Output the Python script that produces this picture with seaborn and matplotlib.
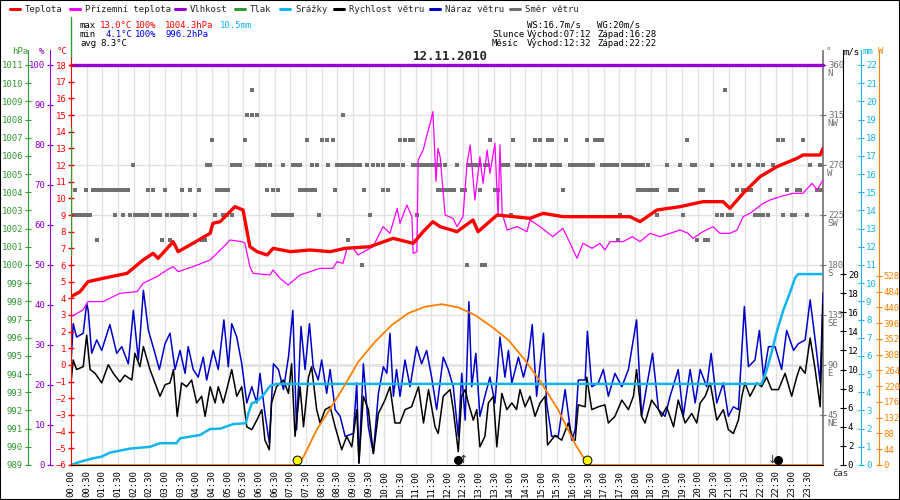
import numpy as np
import pandas as pd
import seaborn as sns
import matplotlib.pyplot as plt
from matplotlib import transforms
from matplotlib.patches import Rectangle
from matplotlib.lines import Line2D

# ---------------- data (hours of day -> value) ----------------
temp_h = [0.0, 0.29, 0.54, 1.02, 1.79, 2.30, 2.62, 2.78, 3.26, 3.42, 3.89, 4.44, 4.53, 4.76, 5.23, 5.49,
          5.71, 5.94, 6.26, 6.45, 7.0, 7.63, 8.27, 8.75, 9.54, 10.28, 10.92, 11.24, 11.55, 11.78, 12.32,
          12.83, 12.99, 13.60, 14.65, 15.07, 15.70, 16.98, 17.84, 18.16, 18.70, 19.44, 20.17, 20.81,
          21.03, 21.45, 21.99, 22.53, 23.17, 23.36, 23.91, 24.0]
temp_v = [4.1, 4.4, 5.0, 5.2, 5.5, 6.3, 6.7, 6.4, 7.4, 6.8, 7.3, 7.9, 8.5, 8.6, 9.5, 9.3,
          7.1, 6.8, 6.6, 7.0, 6.8, 6.9, 6.8, 7.0, 7.1, 7.6, 7.3, 8.0, 8.6, 8.3, 8.0,
          8.7, 8.0, 9.0, 8.8, 9.1, 8.9, 8.9, 8.9, 8.6, 9.3, 9.5, 9.8, 9.8,
          9.4, 10.3, 11.3, 11.9, 12.4, 12.6, 12.6, 13.0]

ground_h = [0.0, 0.38, 0.54, 1.02, 1.56, 2.11, 2.30, 2.74, 3.06, 3.26, 3.42, 3.89, 4.44, 4.98, 5.07, 5.46,
            5.55, 5.71, 5.81, 6.35, 6.45, 6.67, 6.93, 7.31, 7.95, 8.36, 8.49, 8.68, 8.81, 9.00, 9.16,
            9.64, 9.96, 10.18, 10.41, 10.50, 10.72, 10.88, 10.92, 11.04, 11.08, 11.24, 11.36, 11.46,
            11.55, 11.65, 11.71, 11.78, 11.94, 12.19, 12.32, 12.51, 12.64, 12.74, 12.89, 13.05, 13.15,
            13.28, 13.37, 13.53, 13.63, 13.69, 13.76, 13.92, 14.24, 14.55, 14.65, 14.97, 15.38, 15.70,
            15.93, 16.15, 16.34, 16.63, 16.88, 17.04, 17.20, 17.62, 17.91, 18.16, 18.48, 18.80, 19.12,
            19.44, 19.69, 19.85, 20.17, 20.49, 20.71, 21.03, 21.26, 21.45, 21.67, 22.09, 22.31, 22.63,
            23.04, 23.36, 23.65, 23.81, 24.0]
ground_v = [2.9, 3.3, 3.8, 3.8, 4.3, 4.4, 4.9, 5.3, 5.7, 5.9, 5.6, 5.9, 6.3, 7.3, 7.5, 7.4,
            7.3, 5.9, 5.5, 5.4, 5.7, 5.2, 4.8, 5.4, 5.8, 5.8, 6.2, 6.1, 7.0, 7.0, 6.6,
            7.1, 8.3, 7.9, 9.4, 8.5, 9.6, 8.9, 6.7, 6.8, 12.3, 12.9, 13.8, 14.5,
            15.2, 11.0, 13.0, 12.5, 9.0, 8.8, 8.3, 8.9, 12.1, 13.2, 9.9, 12.5, 10.9,
            12.9, 11.5, 13.3, 8.9, 13.2, 9.1, 8.1, 8.3, 8.0, 8.7, 8.3, 7.7, 8.2,
            7.3, 6.4, 7.3, 7.0, 7.3, 6.9, 7.4, 7.4, 7.7, 7.4, 7.9, 7.7, 7.9,
            8.1, 7.9, 7.6, 8.0, 8.3, 7.9, 7.9, 8.1, 8.9, 9.1, 9.7, 9.9, 10.1,
            10.3, 10.3, 10.9, 10.5, 11.1]

hum_h = [0.0, 24.0]
hum_v = [100, 100]

precip_h = [0.0, 0.29, 0.71, 0.98, 1.24, 1.56, 1.88, 2.20, 2.52, 2.84, 3.37, 3.48, 4.12, 4.44, 4.76, 5.18,
            5.58, 5.66, 5.77, 5.93, 6.14, 6.35, 6.56, 22.04, 22.20, 22.36, 22.52, 22.73, 22.95, 23.11,
            23.21, 24.0]
precip_v = [0.0, 0.18, 0.37, 0.46, 0.68, 0.79, 0.90, 0.95, 1.0, 1.2, 1.2, 1.47, 1.65, 1.98, 2.0, 2.25,
            2.3, 2.84, 3.39, 3.5, 3.85, 4.35, 4.46, 4.46, 5.2, 6.2, 7.3, 8.5, 9.5, 10.3,
            10.5, 10.5]

rad_h = [0.0, 7.25, 7.42, 7.84, 8.11, 8.64, 9.17, 9.70, 10.24, 10.77, 11.30, 11.83, 12.36, 12.89,
         13.43, 13.96, 14.49, 15.02, 15.55, 16.09, 16.51, 24.0]
rad_v = [0, 0, 23, 98, 135, 209, 288, 344, 391, 424, 442, 449, 440, 419,
         386, 349, 293, 228, 154, 58, 0, 0]

wind_h = [0.00, 0.07, 0.18, 0.39, 0.50, 0.61, 0.77, 0.98, 1.19, 1.35, 1.56, 1.72, 1.94, 2.04, 2.20, 2.31,
          2.52, 2.68, 2.84, 3.00, 3.16, 3.27, 3.39, 3.53, 3.69, 3.85, 4.01, 4.17, 4.28, 4.44, 4.60, 4.70,
          4.86, 4.97, 5.13, 5.29, 5.45, 5.61, 5.77, 5.93, 6.09, 6.19, 6.33, 6.40, 6.56, 6.78, 6.94, 7.04,
          7.15, 7.31, 7.42, 7.58, 7.68, 7.84, 7.95, 8.11,
          8.27, 8.43, 8.64, 8.80, 8.96, 9.12, 9.19, 9.33, 9.49, 9.65, 9.81, 10.02, 10.18, 10.34, 10.50,
          10.66, 10.87, 11.09, 11.25, 11.41, 11.62, 11.72, 11.88, 12.10, 12.20, 12.36, 12.47, 12.58,
          12.68, 12.84, 12.95, 13.05, 13.21, 13.32, 13.48, 13.59, 13.75, 13.91, 14.07, 14.22, 14.33,
          14.49, 14.65, 14.81, 14.97, 15.13, 15.21, 15.45, 15.66, 15.87, 16.03,
          16.09, 16.19, 16.41, 16.46, 16.62, 16.83, 17.04, 17.15, 17.36, 17.58, 17.79, 17.95, 18.05,
          18.21, 18.32, 18.53, 18.75, 18.85, 19.01, 19.23, 19.38, 19.60, 19.81, 19.97, 20.08, 20.24,
          20.40, 20.61, 20.82, 20.98, 21.14, 21.30, 21.41, 21.51, 21.67, 21.89, 22.04, 22.20, 22.36,
          22.58, 22.79, 23.00, 23.16, 23.27, 23.43, 23.59, 23.75, 23.91, 24.00]
wind_v = [8.6, 11.0, 10.0, 10.3, 13.6, 10.0, 9.6, 8.6, 10.5, 9.6, 8.7, 9.4, 8.9, 11.7, 10.3, 12.4,
          10.0, 8.6, 7.2, 8.4, 8.6, 10.0, 5.1, 8.6, 8.2, 8.9, 6.5, 7.2, 5.1, 8.2, 6.5, 8.2,
          6.5, 7.9, 10.0, 7.2, 8.2, 4.0, 3.7, 4.7, 5.8, 2.6, 1.6, 6.5, 8.2, 8.9, 7.5, 10.6,
          3.0, 8.2, 4.0, 9.2, 10.3, 5.8, 4.4, 5.8,
          6.1, 4.0, 1.6, 3.0, 1.9, 5.8, 0.2, 7.2, 5.8, 1.2, 5.4, 6.8, 8.2, 4.4, 4.4,
          5.8, 6.1, 8.2, 4.4, 7.9, 4.0, 3.3, 7.2, 7.9, 5.8, 1.4, 7.2, 7.9,
          6.5, 4.7, 5.8, 1.9, 3.0, 6.5, 7.2, 1.9, 7.5, 5.8, 6.5, 5.8, 7.9,
          6.1, 7.2, 5.1, 6.5, 7.2, 2.1, 3.1, 2.6, 4.4, 2.6,
          2.6, 6.3, 6.1, 9.2, 5.8, 6.1, 6.3, 4.4, 5.1, 6.8, 5.8, 7.2, 10.0,
          5.1, 4.4, 6.8, 5.8, 5.1, 6.1, 4.0, 6.8, 4.4, 5.4, 4.4, 6.5, 7.2,
          8.6, 4.7, 5.8, 3.7, 3.3, 4.7, 7.2, 8.6, 7.2, 8.6, 8.2, 9.2, 7.9,
          7.9, 9.6, 7.2, 9.2, 10.3, 9.6, 13.3, 10.0, 6.1, 16.9]

gust_h = [0.00, 0.07, 0.18, 0.39, 0.50, 0.55, 0.66, 0.82, 0.98, 1.24, 1.46, 1.62, 1.83, 1.99, 2.15, 2.31,
          2.47, 2.68, 2.82, 3.00, 3.16, 3.32, 3.48, 3.64, 3.74, 3.90, 4.06, 4.22, 4.33, 4.54, 4.70, 4.88,
          5.02, 5.13, 5.29, 5.45, 5.61, 5.77, 5.93, 6.03, 6.19, 6.33, 6.46, 6.62, 6.78, 6.94, 7.08, 7.20,
          7.34, 7.47, 7.61, 7.73, 7.89, 8.00, 8.16,
          8.27, 8.43, 8.59, 8.75, 9.01, 9.12, 9.19, 9.33, 9.49, 9.65, 9.81, 9.97, 10.08, 10.18, 10.29,
          10.39, 10.50, 10.66, 10.82, 11.03, 11.19, 11.35, 11.51, 11.67, 11.88, 12.04, 12.20, 12.36,
          12.47, 12.58, 12.70, 12.79, 12.92, 13.05, 13.21, 13.37, 13.53, 13.69, 13.85, 13.96, 14.07,
          14.28, 14.44, 14.60, 14.72, 14.86, 15.08, 15.18, 15.34, 15.55, 15.77, 15.98,
          16.09, 16.19, 16.41, 16.48, 16.62, 16.83, 16.99, 17.15, 17.36, 17.58, 17.79, 18.05, 18.21,
          18.37, 18.56, 18.75, 18.96, 19.12, 19.38, 19.54, 19.76, 19.92, 20.08, 20.29, 20.43, 20.61,
          20.82, 20.98, 21.14, 21.30, 21.49, 21.62, 21.83, 21.97, 22.10, 22.26, 22.47, 22.68, 22.84,
          23.06, 23.21, 23.43, 23.59, 23.75, 23.91, 24.00]
gust_v = [10.6, 14.8, 13.4, 13.8, 16.9, 16.2, 11.7, 13.1, 12.0, 14.7, 11.7, 12.4, 10.6, 16.2, 11.0, 18.3,
          14.1, 11.7, 10.0, 12.7, 13.8, 10.0, 12.0, 9.6, 12.4, 10.0, 9.2, 11.3, 8.9, 12.0, 10.0, 15.2,
          10.3, 14.8, 13.4, 10.6, 6.5, 8.2, 6.5, 9.6, 5.4, 2.3, 10.6, 10.0, 7.9, 11.3, 16.2, 3.7,
          14.5, 10.0, 14.8, 10.3, 8.9, 11.0, 7.5,
          10.0, 5.8, 5.1, 3.0, 3.3, 8.6, 0.2, 10.6, 4.0, 1.2, 7.5, 10.3, 9.6, 13.8, 7.2,
          10.0, 7.2, 11.0, 8.2, 12.4, 10.6, 12.0, 9.2, 5.8, 11.3, 10.0, 8.2, 3.0,
          9.6, 4.7, 17.1, 8.2, 11.7, 5.1, 7.2, 9.2, 6.5, 13.4, 9.2, 12.0, 8.6,
          11.3, 9.2, 11.3, 14.7, 7.2, 13.8, 6.5, 3.0, 3.0, 7.9, 2.6,
          3.7, 8.9, 8.9, 14.0, 8.2, 8.6, 10.0, 7.2, 9.6, 8.2, 10.0, 15.2, 5.1,
          8.2, 11.7, 5.8, 5.1, 7.2, 10.0, 5.1, 10.0, 6.5, 10.0, 8.2, 11.7, 6.5,
          8.6, 5.1, 6.1, 5.8, 16.6, 10.3, 11.0, 14.1, 9.2, 12.4, 12.4, 10.0, 14.1,
          12.0, 12.7, 13.1, 17.3, 13.1, 8.6, 18.0]

# wind direction samples (hour of day) per compass bearing
dir_n = [9.61]
dir_nnw = [5.78, 20.87]
dir_nw = [5.62, 5.78, 5.94, 8.68]
dir_wnw = [4.50, 5.55, 7.53, 8.01, 8.17, 8.36, 10.50, 10.66, 10.82, 10.92, 13.37, 14.11, 14.81, 14.97,
           15.22, 15.35, 15.80, 16.47, 16.73, 16.85, 16.95, 19.66, 22.57, 22.73, 23.36]
dir_w = [1.98, 4.34, 4.44, 5.14, 5.27, 5.39, 5.94, 6.06, 6.19, 6.35, 6.77, 7.09, 7.21, 7.31, 7.69, 7.85,
         8.20, 8.49, 8.62, 8.75, 8.87, 9.00, 9.13, 9.22, 9.45, 9.64, 9.80, 9.96, 10.18, 10.31, 10.44,
         10.60, 10.92, 11.04, 11.17, 11.30, 11.43, 11.55, 11.68, 11.78, 11.94, 12.32, 12.67, 12.80,
         12.93, 13.05, 13.21, 13.31, 13.76, 13.85, 13.95, 14.24, 14.36, 14.49, 14.65, 14.87, 15.00,
         15.13, 15.35, 15.48, 15.61, 15.93, 16.05, 16.18, 16.31, 16.44, 16.57, 16.66, 16.95, 17.08,
         17.20, 17.33, 17.43, 17.62, 17.75, 17.87, 18.00, 18.13, 18.26, 18.42, 19.02, 19.44, 19.82,
         19.92, 20.46, 21.13, 21.35, 21.64, 21.93, 22.09, 22.41, 23.59, 23.91]
dir_wsw = [0.13, 0.48, 0.70, 0.83, 0.96, 1.09, 1.21, 1.34, 1.47, 1.60, 1.72, 1.82, 2.46, 2.62, 3.00,
           3.54, 3.80, 4.09, 4.66, 4.79, 4.92, 5.01, 6.26, 6.45, 6.61, 7.31, 7.44, 7.56, 7.69, 7.79,
           8.43, 9.35, 9.96, 10.12, 11.71, 11.84, 11.97, 12.10, 12.23, 12.48, 12.58, 13.05, 13.53,
           13.63, 15.70, 18.10, 18.23, 18.35, 18.48, 18.61, 18.70, 19.12, 19.25, 19.34, 20.08, 20.17,
           21.26, 21.45, 21.58, 21.70, 22.31, 22.85, 23.17, 23.27, 23.81, 23.94]
dir_sw = [0.0, 0.10, 0.22, 0.35, 0.48, 0.61, 1.40, 1.66, 1.88, 2.04, 2.17, 2.30, 2.43, 2.62, 2.74, 2.84,
          3.06, 3.22, 3.35, 3.48, 3.61, 3.70, 3.96, 4.60, 4.85, 4.98, 5.14, 6.45, 6.58, 6.70, 6.83,
          6.96, 7.05, 7.92, 9.54, 11.04, 14.04, 17.52, 18.70, 19.53, 20.62, 20.78, 20.97, 21.10,
          21.83, 21.96, 22.09, 22.25, 22.73, 23.01, 23.11, 23.49]
dir_ssw = [0.83, 2.90, 3.16, 4.18, 4.28, 8.84, 17.46, 19.98, 20.24, 20.33]
dir_s = [9.29, 12.64, 13.12, 13.21]

sun_events = [7.2, 16.47]     # Východ 07:12, Západ 16:28
moon_rise = [12.53]           # 12:32
moon_set = [22.37]            # 22:22

compass = ['NE', 'E', 'SE', 'S', 'SW', 'W', 'NW', 'N']
title = '12.11.2010'

# ---------------- style ----------------
sns.set_style('white')
plt.rcParams['font.family'] = ['DejaVu Sans Mono', 'DejaVu Sans']
FS = 6.5
plt.rcParams['font.size'] = FS

RED, MAG, PUR, GRN = '#ff0000', '#ff00ff', '#9400d3', '#339933'
CYA, BLK, BLU, GRY, ORA = '#10b4ee', '#000000', '#0000c8', '#707070', '#ff8000'

W, H = 900, 500
fig = plt.figure(figsize=(9, 5), dpi=100)
fig.patch.set_facecolor('white')


def fx(px):
    return px / W


def fy(py):
    return 1 - py / H


ax = fig.add_axes([fx(71), fy(465), 752 / W, 400 / H])
ax_d = ax.twinx()
ax_w = ax.twinx()
ax_r = ax.twinx()
ax_s = ax.twinx()
ax_p = ax.twinx()
ax_h = ax.twinx()
for z, a in enumerate([ax_d, ax_w, ax_r, ax_s, ax_p, ax_h, ax]):
    a.set_zorder(z)
    a.patch.set_visible(False)
    for s in a.spines.values():
        s.set_visible(False)

ax.set_xlim(0, 24)
ax.set_ylim(-6, 18)
ax_d.set_ylim(0, 360)
ax_w.set_ylim(0, 41.9)
ax_r.set_ylim(0, 22)
ax_s.set_ylim(0, 1117)
ax_p.set_ylim(989, 1011)
ax_h.set_ylim(0, 100)

# grid lives on the direction axis (bottom layer)
half_hours = np.arange(0, 24, 0.5)
ax.set_xticks(half_hours)
ax.set_xticklabels([f'{int(t):02d}:{int(round((t % 1) * 60)):02d}' for t in half_hours])
ax_d.xaxis.set_visible(True)
ax_d.tick_params(axis='x', bottom=False, top=False, labelbottom=False, labeltop=False)
ax_d.set_yticks(range(45, 361, 45))
ax_d.grid(True, color='#e2e2e2', lw=1)
ax_d.set_axisbelow(True)
ax_d.axhline(90, color='#808080', lw=1, zorder=0.5)
ax.grid(False)

# ---------------- data marks ----------------
dir_df = pd.concat([
    pd.DataFrame({'hour': t, 'deg': d}) for t, d in [
        (dir_s, 180), (dir_ssw, 202.5), (dir_sw, 225), (dir_wsw, 247.5), (dir_w, 270),
        (dir_wnw, 292.5), (dir_nw, 315), (dir_nnw, 337.5), (dir_n, 360)]
], ignore_index=True)
sns.scatterplot(data=dir_df, x='hour', y='deg', ax=ax_d, marker='s', s=8, color=GRY,
                edgecolor='none', linewidth=0, legend=False)

sns.lineplot(x=gust_h, y=gust_v, ax=ax_w, color=BLU, linewidth=1.1)
sns.lineplot(x=wind_h, y=wind_v, ax=ax_w, color=BLK, linewidth=1.1)
sns.lineplot(x=precip_h, y=precip_v, ax=ax_r, color=CYA, linewidth=1.8)
sns.lineplot(x=rad_h, y=rad_v, ax=ax_s, color=ORA, linewidth=1.3)
ax_s.lines[-1].set_clip_on(False)
sns.lineplot(x=hum_h, y=hum_v, ax=ax_h, color=PUR, linewidth=2.4)
ax_h.lines[-1].set_clip_on(False)
sns.lineplot(x=ground_h, y=ground_v, ax=ax, color=MAG, linewidth=0.9)
sns.lineplot(x=temp_h, y=temp_v, ax=ax, color=RED, linewidth=2.4)
for a in (ax, ax_d, ax_w, ax_r, ax_s, ax_h):
    a.set_xlabel('')
    a.set_ylabel('')
ax.set_xlim(0, 24)

# sun and moon events on the radiation baseline
up = transforms.ScaledTranslation(0, 5 / 100, fig.dpi_scale_trans)
ax_s.scatter(sun_events, np.zeros(len(sun_events)), s=40, color='#ffff00', edgecolor='black',
             linewidth=0.7, transform=ax_s.transData + up, zorder=10, clip_on=False)
left = transforms.ScaledTranslation(-6 / 100, 5 / 100, fig.dpi_scale_trans)
right = transforms.ScaledTranslation(6 / 100, 5 / 100, fig.dpi_scale_trans)
ax_s.scatter(moon_rise, np.zeros(len(moon_rise)), s=30, color='black',
             transform=ax_s.transData + left, zorder=10, clip_on=False)
ax_s.scatter(moon_set, np.zeros(len(moon_set)), s=30, color='black',
             transform=ax_s.transData + right, zorder=10, clip_on=False)
for t in moon_rise:
    ax_s.text(t, 0, '↑', ha='center', va='bottom', fontsize=8, family='DejaVu Sans')
for t in moon_set:
    ax_s.text(t, 0, '↓', ha='center', va='bottom', fontsize=8, family='DejaVu Sans')

# ---------------- axes / spines ----------------
ax.spines['left'].set_visible(True)
ax.spines['left'].set_color(RED)
ax.spines['left'].set_bounds(-6, 18.4)
ax.spines['bottom'].set_visible(True)
ax.spines['bottom'].set_color('black')
ax.axvline(0, ymin=(465 - 255) / 400, ymax=(465 - 127) / 400, color=GRN, lw=1, zorder=5)
ax.axvline(0, ymin=(465 - 58) / 400, ymax=(465 - 17) / 400, color=GRN, lw=1, clip_on=False)
ax.set_yticks(range(-6, 19))
ax.tick_params(axis='y', colors=RED, direction='inout', length=5, width=1, pad=1, labelsize=FS)
ax.tick_params(axis='x', colors='black', direction='out', length=3, width=0.8, pad=1,
               labelsize=FS, labelrotation=90)

ax_h.yaxis.tick_left()
ax_h.spines['left'].set_visible(True)
ax_h.spines['left'].set_position(('outward', 15.1))
ax_h.spines['left'].set_color(PUR)
ax_h.spines['left'].set_bounds(0, 103.7)
ax_h.set_yticks(range(0, 101, 10))
ax_h.tick_params(axis='y', colors=PUR, direction='inout', length=5, pad=1, labelsize=FS)

ax_p.yaxis.tick_left()
ax_p.spines['left'].set_visible(True)
ax_p.spines['left'].set_position(('outward', 31))
ax_p.spines['left'].set_color(GRN)
ax_p.spines['left'].set_bounds(989, 1011.8)
ax_p.set_yticks(range(989, 1012))
ax_p.tick_params(axis='y', colors=GRN, direction='inout', length=5, pad=1, labelsize=FS)

ax_d.spines['right'].set_visible(True)
ax_d.spines['right'].set_color(GRY)
ax_d.spines['right'].set_linewidth(1.2)
ax_d.spines['right'].set_bounds(0, 373)
ax_d.tick_params(axis='y', colors=GRY, direction='inout', length=5, pad=1, labelsize=FS,
                 left=False, labelleft=False, right=True, labelright=True)
below = transforms.blended_transform_factory(ax_d.transAxes, ax_d.transData) + \
    transforms.ScaledTranslation(4 / 100, -4 / 100, fig.dpi_scale_trans)
for deg, name in zip(range(45, 361, 45), compass):
    ax_d.text(1.0, deg, name, color=GRY, fontsize=FS, ha='left', va='top', transform=below)

for a, col, off, top, ticks in [(ax_w, BLK, 14.4, 43.5, range(0, 21, 2)),
                                (ax_r, CYA, 27.4, 22.8, range(0, 23)),
                                (ax_s, ORA, 40.3, 1159, range(0, 529, 44))]:
    a.spines['right'].set_visible(True)
    a.spines['right'].set_position(('outward', off))
    a.spines['right'].set_color(col)
    a.spines['right'].set_bounds(0, top)
    a.set_yticks(list(ticks))
    a.tick_params(axis='y', colors=col, direction='inout', length=5, pad=1, labelsize=FS,
                  left=False, labelleft=False, right=True, labelright=True)

# unit labels
for txt, x, col in [('hPa', 20, GRN), ('%', 42, PUR), ('°C', 62, RED), ('°', 828, GRY),
                    ('m/s', 852, BLK), ('mm', 868, CYA), ('W', 881, ORA)]:
    fig.text(fx(x), fy(52), txt, color=col, ha='center', va='center', fontsize=FS)
fig.text(fx(840), fy(473), 'čas', ha='center', va='center', fontsize=FS)

# ---------------- header ----------------
legend_items = [('Teplota', RED, 25), ('Přízemní teplota', MAG, 85), ('Vlhkost', PUR, 190),
                ('Tlak', GRN, 250), ('Srážky', CYA, 295), ('Rychlost větru', BLK, 349),
                ('Náraz větru', BLU, 445), ('Směr větru', GRY, 525)]
for label, col, x in legend_items:
    fig.add_artist(Line2D([fx(x - 15), fx(x - 5)], [fy(9), fy(9)], color=col, lw=2.2,
                          transform=fig.transFigure))
    fig.text(fx(x), fy(9), label, va='center', ha='left', fontsize=FS)

stats = [('max', 80, 25, BLK), ('13.0°C', 100, 25, RED), ('100%', 135, 25, RED),
         ('1004.3hPa', 165, 25, RED), ('10.5mm', 220, 25, CYA),
         ('min', 80, 34, BLK), ('4.1°C', 105, 34, '#0000ff'), ('100%', 135, 34, '#0000ff'),
         ('996.2hPa', 165, 34, '#0000ff'),
         ('avg', 80, 43, BLK), ('8.3°C', 100, 43, BLK),
         ('WS:16.7m/s', 527, 25, BLK), ('WG:20m/s', 597, 25, BLK),
         ('Slunce', 492, 34, BLK), ('Východ:07:12', 527, 34, BLK), ('Západ:16:28', 597, 34, BLK),
         ('Měsíc', 492, 43, BLK), ('Východ:12:32', 527, 43, BLK), ('Západ:22:22', 597, 43, BLK)]
for txt, x, y, col in stats:
    fig.text(fx(x), fy(y), txt, color=col, ha='left', va='center', fontsize=FS)

fig.text(0.5, fy(57), title, ha='center', va='center', fontsize=9, fontweight='bold')

fig.add_artist(Rectangle((0, 0), 1, 1, transform=fig.transFigure, fill=False,
                         edgecolor='black', lw=1.5))

fig.savefig('out.png', dpi=100, facecolor='white')
